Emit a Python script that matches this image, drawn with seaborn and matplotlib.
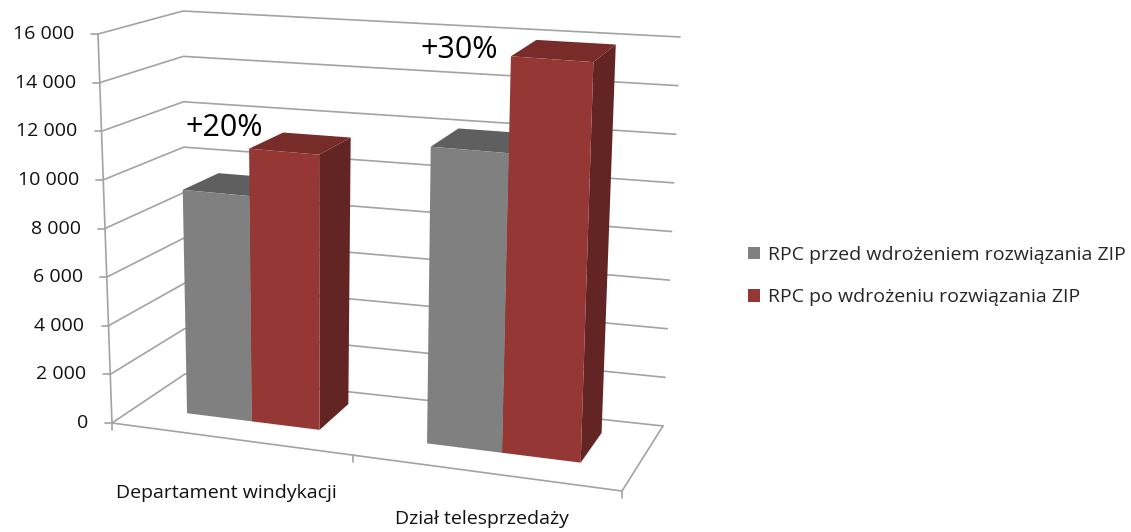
import numpy as np
import pandas as pd
import matplotlib
matplotlib.use("Agg")
import matplotlib.pyplot as plt
import seaborn as sns
from matplotlib.transforms import Transform
from matplotlib.patches import Polygon

# ---- data -------------------------------------------------------------
categories = ["Departament windykacji", "Dział telesprzedaży"]
series = ["RPC przed wdrożeniem rozwiązania ZIP", "RPC po wdrożeniu rozwiązania ZIP"]
rpc_before = [9330, 12000]
rpc_after = [11290, 15880]
change_labels = ["+20%", "+30%"]
y_ticks = [0, 2000, 4000, 6000, 8000, 10000, 12000, 14000, 16000]
y_tick_labels = ["0", "2 000", "4 000", "6 000", "8 000", "10 000", "12 000", "14 000", "16 000"]

# ---- style ------------------------------------------------------------
W, H = 1131, 532
Y_MAX = 16000
FRONT, BACK = 0.33, 0.80          # depth of the bar front / back faces
U_A, U_B, U_C = 0.4488, 0.232, -0.0712   # perspective along the category axis
GRID = "#a3a3a3"
FACE = {"front": ["#808080", "#953735"],
        "top": ["#5f5f5f", "#772c2a"],
        "side": ["#4f4f4f", "#632523"]}
CAT_LABEL_DROP = [54, 46]         # pixel drop of category labels below the floor edge
CHANGE_LABEL_XY = [(224, 128), (459, 50)]

sns.set_theme(style="white")
plt.rcParams["font.family"] = ["Open Sans", "DejaVu Sans"]

# corners of floor (value 0) and ceiling (value Y_MAX) of the 3-D box, in
# pixel space; order: front-left, front-right, back-right, back-left
FLOOR = np.array([(112, 423), (622, 491), (663, 426), (185, 374)], float)
CEIL = np.array([(98, 34), (637, 76), (680, 37), (183, 11)], float)


def _bilinear(c, u, w):
    u = u[:, None]; w = w[:, None]
    return ((1 - u) * (1 - w) * c[0] + u * (1 - w) * c[1]
            + u * w * c[2] + (1 - u) * w * c[3])


def project(u, w, t):
    u, w, t = (np.atleast_1d(np.asarray(a, float)) for a in (u, w, t))
    u, w, t = (a.ravel() for a in np.broadcast_arrays(u, w, t))
    f = _bilinear(FLOOR, u, w)
    c = _bilinear(CEIL, u, w)
    return f + t[:, None] * (c - f)


def to_u(x):
    """Category-axis data coordinate -> fraction of the floor width."""
    x = np.asarray(x, float)
    return np.clip((U_A * x + U_B) / (U_C * x + 1), 0, 1)


class DepthProjection(Transform):
    """Maps (category x, value) at a fixed depth onto the perspective box."""
    input_dims = output_dims = 2
    is_separable = False
    has_inverse = False

    def __init__(self, plane):
        super().__init__()
        self._plane = plane

    def transform_non_affine(self, values):
        v = np.asarray(values, float).reshape(-1, 2)
        return project(to_u(v[:, 0]), self._plane, v[:, 1] / Y_MAX)


fig = plt.figure(figsize=(W / 100, H / 100), dpi=100)
ax_pix = fig.add_axes([0, 0, 1, 1])
ax_pix.set_xlim(0, W)
ax_pix.set_ylim(H, 0)
ax_pix.set_axis_off()

# ---- box: walls, gridlines, axes -------------------------------------
for val in y_ticks:
    t = val / Y_MAX
    pts = project([0, 0, 1], [0, 1, 1], t)
    ax_pix.plot(pts[:, 0], pts[:, 1], color=GRID, lw=1.2, zorder=1)
edges = [([0, 1], [0, 0], [0, 0]), ([1, 1], [0, 1], [0, 0]), ([0, 0], [0, 0], [0, 1])]
for u, w, t in edges:
    pts = project(u, w, t)
    ax_pix.plot(pts[:, 0], pts[:, 1], color=GRID, lw=1.2, zorder=1)
for val, lab in zip(y_ticks, y_tick_labels):
    x, y = project(0, 0, val / Y_MAX)[0]
    ax_pix.plot([x - 7, x], [y, y], color=GRID, lw=1.2, zorder=1)
    ax_pix.text(x - 24, y, lab, ha="right", va="center", fontsize=14, color="#111111")
for u in [0.0, float(to_u(0.5)), 1.0]:
    x, y = project(u, 0, 0)[0]
    ax_pix.plot([x, x], [y, y + 7], color=GRID, lw=1.2, zorder=1)
for i, (cat, drop) in enumerate(zip(categories, CAT_LABEL_DROP)):
    x, y = project(to_u(i), 0, 0)[0]
    ax_pix.text(x - 4, y + drop, cat, ha="center", va="center", fontsize=14, color="#111111")

# ---- bars -------------------------------------------------------------
df = pd.DataFrame({
    "Kategoria": categories * 2,
    "Seria": [series[0]] * 2 + [series[1]] * 2,
    "RPC": rpc_before + rpc_after,
})
ax_data = fig.add_axes([0, 0, 1, 1])
ax_data.patch.set_alpha(0)
sns.barplot(data=df, x="Kategoria", y="RPC", hue="Seria", hue_order=series,
            order=categories, palette=FACE["front"], saturation=1, width=0.57,
            linewidth=0, ax=ax_data)
sns.move_legend(ax_data, "center left", bbox_to_anchor=(748 / W, 1 - 276 / H),
                title=None, frameon=False, fontsize=14, handlelength=0.62,
                handleheight=0.62, handletextpad=0.42, labelspacing=1.25,
                borderaxespad=0, borderpad=0)
ax_data.set_xlim(-0.52, 1.48)
ax_data.set_ylim(0, Y_MAX)
for s in ax_data.spines.values():
    s.set_visible(False)
ax_data.set_xticks([]); ax_data.set_yticks([])
ax_data.set_xlabel(""); ax_data.set_ylabel("")

bars = [p for p in ax_data.patches if p.get_height() > 0]
bars.sort(key=lambda p: p.get_x())
for p in bars:
    k = 0 if p.get_facecolor()[0] < 0.55 else 1
    u0, u1 = to_u(p.get_x()), to_u(p.get_x() + p.get_width())
    t = p.get_height() / Y_MAX
    side = project([u1, u1, u1, u1], [FRONT, BACK, BACK, FRONT], [0, 0, t, t])
    top = project([u0, u1, u1, u0], [FRONT, FRONT, BACK, BACK], t)
    ax_pix.add_patch(Polygon(side, closed=True, fc=FACE["side"][k], ec="none", zorder=3))
    ax_pix.add_patch(Polygon(top, closed=True, fc=FACE["top"][k], ec="none", zorder=3))
    p.set_transform(DepthProjection(FRONT) + ax_pix.transData)
    p.set_clip_on(False)

for lab, (x, y) in zip(change_labels, CHANGE_LABEL_XY):
    ax_pix.text(x, y, lab, ha="center", va="center", fontsize=22, color="#000000", zorder=5)

fig.savefig("out.png", dpi=100, facecolor="white")
